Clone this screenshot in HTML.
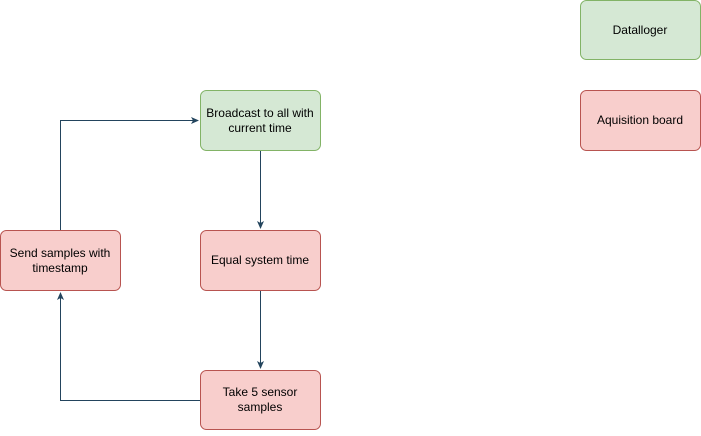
<!DOCTYPE html>
<html><head><style>
body{margin:0;width:701px;height:431px;background:#fff;overflow:hidden}
</style></head><body>
<svg width="701" height="431" xmlns="http://www.w3.org/2000/svg" font-family="Liberation Sans, sans-serif" font-size="12">
<defs><marker id="a" markerWidth="8" markerHeight="8" refX="7" refY="4" orient="auto" markerUnits="userSpaceOnUse"><path d="M0,0.5 L8,4 L0,7.5 L2,4 Z" fill="#23445d"/></marker></defs>
<g fill="none" stroke="#23445d" stroke-width="1">
<path d="M260.5 150.5 V228" marker-end="url(#a)"/>
<path d="M260.5 290.5 V368" marker-end="url(#a)"/>
<path d="M200.5 400.5 H60.5 V293" marker-end="url(#a)"/>
<path d="M60.5 230.5 V120.5 H198" marker-end="url(#a)"/>
</g>
<g stroke-width="1">
<rect x="580.5" y="0.5" width="120" height="59" rx="6" fill="#d5e8d4" stroke="#82b366"/>
<rect x="580.5" y="90.5" width="120" height="60" rx="6" fill="#f8cecc" stroke="#b85450"/>
<rect x="200.5" y="90.5" width="120" height="60" rx="6" fill="#d5e8d4" stroke="#82b366"/>
<rect x="200.5" y="230.5" width="120" height="60" rx="6" fill="#f8cecc" stroke="#b85450"/>
<rect x="200.5" y="370.5" width="120" height="59" rx="6" fill="#f8cecc" stroke="#b85450"/>
<rect x="0.5" y="230.5" width="120" height="60" rx="6" fill="#f8cecc" stroke="#b85450"/>
</g>
<g text-anchor="middle" fill="#000">
<text x="640" y="34">Datalloger</text>
<text x="640" y="124">Aquisition board</text>
<text x="260" y="117">Broadcast to all with</text>
<text x="260" y="132">current time</text>
<text x="260" y="264">Equal system time</text>
<text x="260" y="396">Take 5 sensor</text>
<text x="260" y="411">samples</text>
<text x="60" y="257">Send samples with</text>
<text x="60" y="272">timestamp</text>
</g>
</svg>
</body></html>
